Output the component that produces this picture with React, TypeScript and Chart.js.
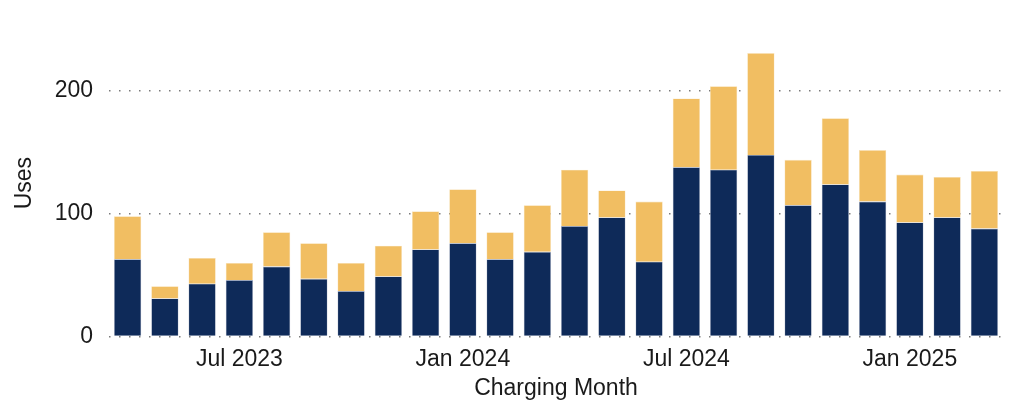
import React, { useEffect, useRef } from "react";
import { Chart, registerables } from "chart.js";

Chart.register(...registerables);

const months = [
  "Apr 2023", "May 2023", "Jun 2023", "Jul 2023", "Aug 2023", "Sep 2023",
  "Oct 2023", "Nov 2023", "Dec 2023", "Jan 2024", "Feb 2024", "Mar 2024",
  "Apr 2024", "May 2024", "Jun 2024", "Jul 2024", "Aug 2024", "Sep 2024",
  "Oct 2024", "Nov 2024", "Dec 2024", "Jan 2025", "Feb 2025", "Mar 2025",
];

const navyValues = [63, 31, 43, 46, 57, 47, 37, 49, 71, 76, 63, 69, 90, 97, 61, 138, 136, 148, 107, 124, 110, 93, 97, 88];
const goldValues = [35, 10, 21, 14, 28, 29, 23, 25, 31, 44, 22, 38, 46, 22, 49, 56, 68, 83, 37, 54, 42, 39, 33, 47];

const shownTickLabels = ["Jul 2023", "Jan 2024", "Jul 2024", "Jan 2025"];
const yTicks = [0, 100, 200];

const NAVY = "#0E2A59";
const GOLD = "#F1BE62";
const TEXT = "#1a1a1a";
const FONT = "'Liberation Sans', Arial, sans-serif";

export default function App() {
  const ref = useRef<HTMLCanvasElement | null>(null);

  useEffect(() => {
    if (!ref.current) return;
    const chart = new Chart(ref.current, {
      type: "bar",
      data: {
        labels: months,
        datasets: [
          {
            label: "Navy",
            data: navyValues,
            backgroundColor: NAVY,
            borderColor: "rgba(150,160,185,0.7)",
            borderWidth: 0.6,
            barPercentage: 0.733,
            categoryPercentage: 1,
          },
          {
            label: "Gold",
            data: goldValues,
            backgroundColor: GOLD,
            borderColor: "rgba(245,215,160,0.7)",
            borderWidth: 0.6,
            barPercentage: 0.733,
            categoryPercentage: 1,
          },
        ],
      },
      options: {
        responsive: false,
        animation: false,
        layout: { padding: { top: 25.25, right: 7, left: 0, bottom: 0 } },
        plugins: { legend: { display: false }, tooltip: { enabled: false } },
        scales: {
          x: {
            stacked: true,
            grid: { display: false, drawTicks: false },
            border: { display: false },
            ticks: {
              autoSkip: false,
              maxRotation: 0,
              padding: 9,
              color: TEXT,
              font: { family: FONT, size: 23 },
              callback: function (this: any, _v: any, i: number) {
                const l = months[i];
                return shownTickLabels.includes(l) ? l : "";
              },
            },
            title: {
              display: true,
              text: "Charging Month",
              color: TEXT,
              font: { family: FONT, size: 23 },
              padding: { top: 0, bottom: -1 },
            },
            afterFit: (s: any) => {
              s.height = 64.5;
            },
          },
          y: {
            stacked: true,
            min: 0,
            max: 250,
            afterBuildTicks: (s: any) => {
              s.ticks = yTicks.map((v) => ({ value: v }));
            },
            grid: {
              color: "#7a7a7a",
              lineWidth: 1.5,
              drawTicks: false,
            },
            border: { display: false, dash: [1.5, 8.5] },
            ticks: {
              padding: 16,
              color: TEXT,
              font: { family: FONT, size: 23 },
            },
            title: {
              display: true,
              text: "Uses",
              color: TEXT,
              font: { family: FONT, size: 23 },
              padding: { top: 11, bottom: 0 },
            },
            afterFit: (s: any) => {
              s.width = 109;
            },
          },
        },
      },
    });
    return () => chart.destroy();
  }, []);

  return (
    <div style={{ position: "absolute", left: 0, top: 0, width: 1010, height: 401, background: "#fff" }}>
      <canvas ref={ref} width={1010} height={401} style={{ width: 1010, height: 401, display: "block" }} />
    </div>
  );
}
